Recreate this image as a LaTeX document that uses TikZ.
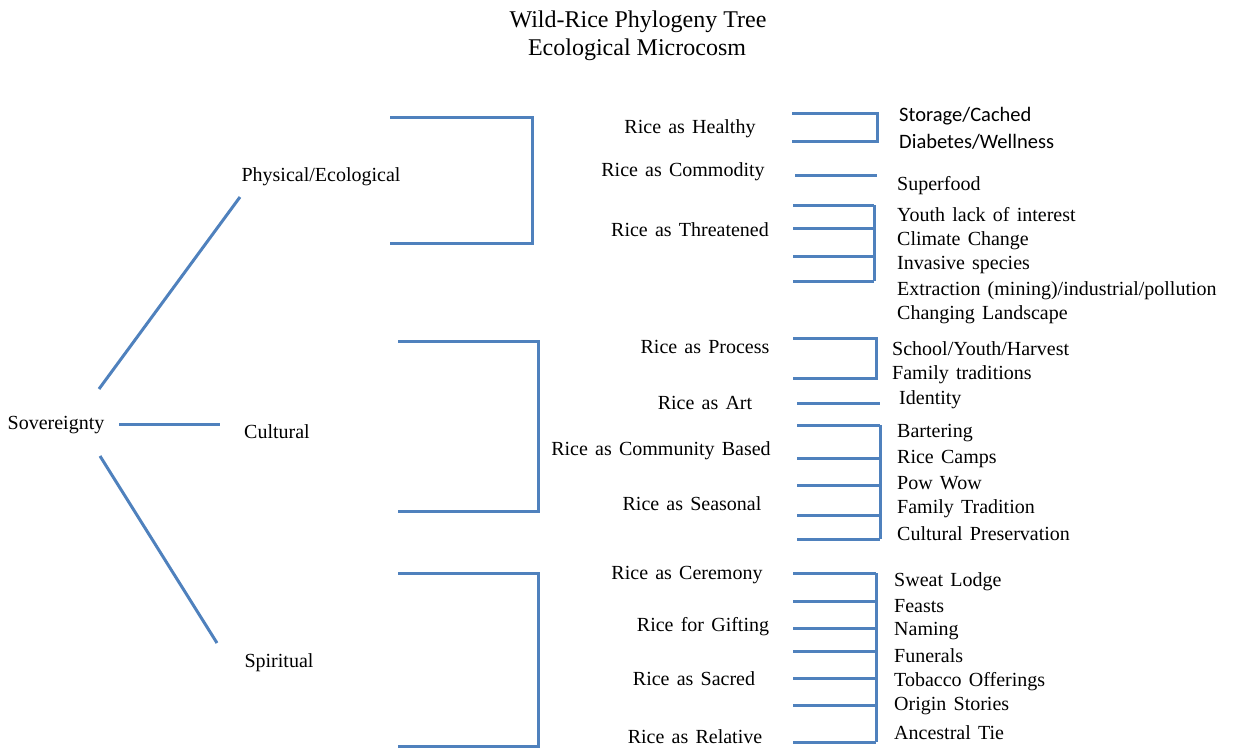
\documentclass[tikz,border=0pt]{standalone}
\usepackage{fontspec}
\setmainfont{Liberation Serif}
\newfontfamily\calfont{Carlito}
\definecolor{treeblue}{RGB}{79,129,189}
\newcommand\widespace{\spaceskip 0.36em\relax}

\begin{document}
\begin{tikzpicture}[x=1pt,y=-1pt,
    branch/.style={treeblue,line width=3pt},
    txt/.style={font=\fontsize{20}{24}\selectfont\widespace,inner sep=0pt,yshift=-2.5pt},
    leaf/.style={txt,anchor=west}]
  \useasboundingbox (0,0) rectangle (1233,750);

  % title
  \node[font=\fontsize{24}{28}\selectfont,inner sep=0pt] (title) at (638,22) {Wild-Rice Phylogeny Tree};
  \node[font=\fontsize{24}{28}\selectfont,inner sep=0pt] (subtitle) at (637,50) {Ecological Microcosm};

  % root and main branches
  \node[txt] (sov) at (56,423) {Sovereignty};
  \node[txt] (phys) at (321,174) {Physical/Ecological};
  \node[txt] (cult) at (277,429) {Cultural};
  \node[txt] (spir) at (279,660) {Spiritual};
  \coordinate (sovUp) at (99,389);   \coordinate (physEnd) at (240,197);
  \coordinate (sovMid) at (119,424); \coordinate (cultEnd) at (220,424);
  \coordinate (sovLow) at (100,456); \coordinate (spirEnd) at (217,643);
  \draw[branch] (sovUp) -- (physEnd);
  \draw[branch] (sovMid) -- (cultEnd);
  \draw[branch] (sovLow) -- (spirEnd);

  % second level brackets
  \coordinate (physT) at (390,117); \coordinate (physTR) at (532,117);
  \coordinate (physBR) at (532,243); \coordinate (physB) at (390,243);
  \draw[branch] (physT) -- (physTR) -- (physBR) -- (physB);
  \coordinate (cultT) at (398,341); \coordinate (cultTR) at (538,341);
  \coordinate (cultBR) at (538,511); \coordinate (cultB) at (398,511);
  \draw[branch] (cultT) -- (cultTR) -- (cultBR) -- (cultB);
  \coordinate (spirT) at (398,573); \coordinate (spirTR) at (538,573);
  \coordinate (spirBR) at (538,746); \coordinate (spirB) at (398,746);
  \draw[branch] (spirT) -- (spirTR) -- (spirBR) -- (spirB);

  \node[txt] (healthy) at (690,126) {Rice as Healthy};
  \node[txt] (commodity) at (683,169) {Rice as Commodity};
  \node[txt] (threatened) at (690,227) {Rice as Threatened};
  \node[txt] (process) at (705,344) {Rice as Process};
  \node[txt] (art) at (705,400) {Rice as Art};
  \node[txt] (community) at (661,448) {Rice as Community Based};
  \node[txt] (seasonal) at (692,501) {Rice as Seasonal};
  \node[txt] (ceremony) at (687,573) {Rice as Ceremony};
  \node[txt] (gifting) at (703,624) {Rice for Gifting};
  \node[txt] (sacred) at (694,676) {Rice as Sacred};
  \node[txt] (relative) at (695,734) {Rice as Relative};

  % third level brackets
  \coordinate (hlthT) at (792,113); \coordinate (hlthTR) at (877,113);
  \coordinate (hlthBR) at (877,141); \coordinate (hlthB) at (792,141);
  \draw[branch] (hlthT) -- (hlthTR) -- (hlthBR) -- (hlthB);
  \coordinate (commL) at (795,175); \coordinate (commR) at (877,175);
  \draw[branch] (commL) -- (commR);
  \foreach \y [count=\i] in {205,228,256,281} {
    \coordinate (thrL\i) at (793,\y); \coordinate (thrR\i) at (874,\y);
    \draw[branch] (thrL\i) -- (thrR\i);
  }
  \draw[branch] (thrR1) -- (thrR4);

  \coordinate (procT) at (793,338); \coordinate (procTR) at (876,338);
  \coordinate (procBR) at (876,378); \coordinate (procB) at (793,378);
  \draw[branch] (procT) -- (procTR) -- (procBR) -- (procB);
  \coordinate (artL) at (797,403); \coordinate (artR) at (880,403);
  \draw[branch] (artL) -- (artR);
  \foreach \y [count=\i] in {425,458,485,515,539} {
    \coordinate (comL\i) at (797,\y); \coordinate (comR\i) at (880,\y);
    \draw[branch] (comL\i) -- (comR\i);
  }
  \draw[branch] (comR1) -- (comR5);

  \foreach \y [count=\i] in {573,601,628,651,678,705,742} {
    \coordinate (cerL\i) at (793,\y); \coordinate (cerR\i) at (876,\y);
    \draw[branch] (cerL\i) -- (cerR\i);
  }
  \draw[branch] (cerR1) -- (cerR7);

  % leaves
  \node[leaf,font=\calfont\fontsize{20.5}{24}\selectfont] (storage) at (899,114) {Storage/Cached};
  \node[leaf,font=\calfont\fontsize{20.5}{24}\selectfont] (diabetes) at (899,139) {Diabetes/Wellness};
  \node[leaf] (superfood) at (897,183) {Superfood};
  \node[leaf] (youth) at (897,212) {Youth lack of interest};
  \node[leaf] (climate) at (897,238) {Climate Change};
  \node[leaf] (invasive) at (897,263) {Invasive species};
  \node[leaf] (extraction) at (897,288) {Extraction (mining)/industrial/pollution};
  \node[leaf] (landscape) at (897,312) {Changing Landscape};
  \node[leaf] (school) at (892,346) {School/Youth/Harvest};
  \node[leaf] (famtrad) at (892,372) {Family traditions};
  \node[leaf] (identity) at (899,397) {Identity};
  \node[leaf] (barter) at (897,431) {Bartering};
  \node[leaf] (camps) at (897,456) {Rice Camps};
  \node[leaf] (powwow) at (897,481) {Pow Wow};
  \node[leaf] (famtrad2) at (897,506) {Family Tradition};
  \node[leaf] (preserve) at (897,531) {Cultural Preservation};
  \node[leaf] (sweat) at (894,579) {Sweat Lodge};
  \node[leaf] (feasts) at (894,604) {Feasts};
  \node[leaf] (naming) at (894,629) {Naming};
  \node[leaf] (funerals) at (894,653) {Funerals};
  \node[leaf] (tobacco) at (894,679) {Tobacco Offerings};
  \node[leaf] (origin) at (894,704) {Origin Stories};
  \node[leaf] (ancestral) at (894,730) {Ancestral Tie};
\end{tikzpicture}
\end{document}
